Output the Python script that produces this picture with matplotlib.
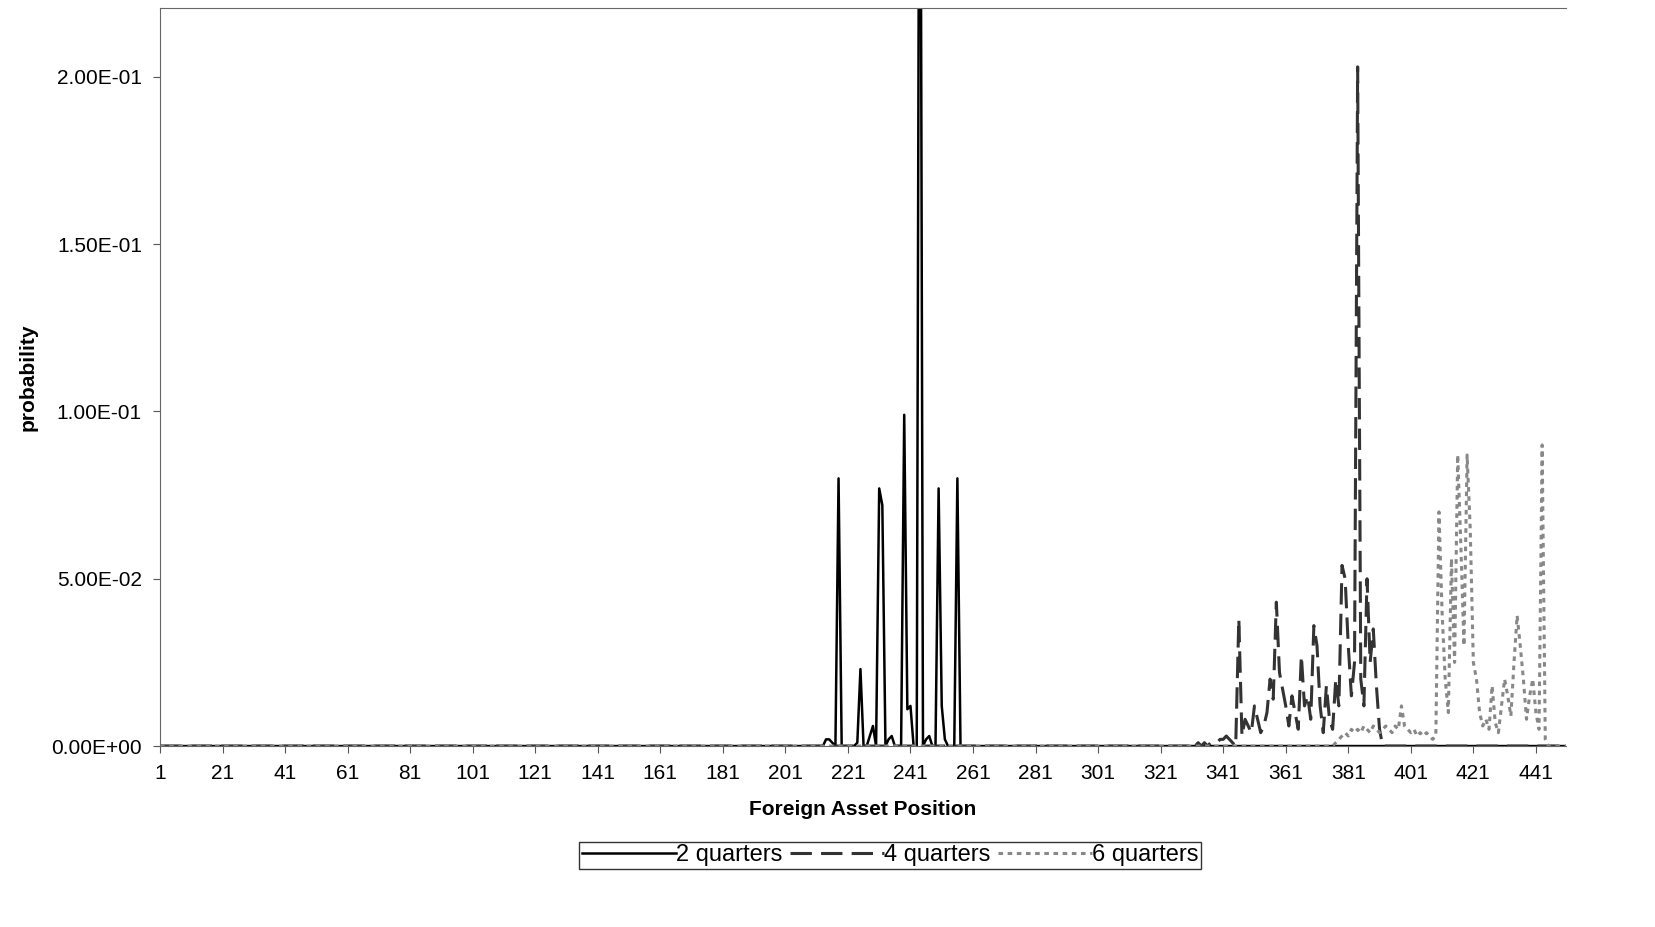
import numpy as np
import matplotlib.pyplot as plt
from matplotlib.ticker import FormatStrFormatter

plt.rcParams['font.family'] = ['Liberation Sans', 'DejaVu Sans']

n = 452
# nonzero points (position, probability) per series
q2_pos = [214, 215, 216, 217, 218, 219, 220, 224, 225, 226, 228, 229, 230, 231, 232, 233, 234, 235, 236,
          238, 239, 240, 241, 242, 243, 244, 245, 246, 247, 248, 249, 250, 251, 252, 253, 254, 255, 256, 257]
q2_val = [0.002, 0.002, 0.001, 0.0, 0.08, 0.0, 0.0, 0.001, 0.023, 0.0, 0.003, 0.006, 0.0, 0.077, 0.072, 0.0, 0.002, 0.003, 0.0,
          0.0, 0.099, 0.011, 0.012, 0.0, 0.0, 0.36, 0.0, 0.002, 0.003, 0.0, 0.0, 0.077, 0.012, 0.002, 0.0, 0.0, 0.0, 0.08, 0.0]
q4_pos = list(range(331, 393))
q4_val = [0.001, 0.0, 0.001, 0.0, 0.001, 0.0, 0.001, 0.001, 0.001, 0.002, 0.002, 0.003, 0.002, 0.001, 0.0, 0.038,
          0.003, 0.008, 0.006, 0.004, 0.012, 0.008, 0.004, 0.006, 0.01, 0.02, 0.014, 0.043, 0.022, 0.017, 0.012,
          0.006, 0.015, 0.01, 0.005, 0.027, 0.012, 0.015, 0.008, 0.036, 0.03, 0.012, 0.004, 0.018, 0.008, 0.005,
          0.02, 0.012, 0.054, 0.05, 0.03, 0.015, 0.025, 0.203, 0.02, 0.012, 0.05, 0.025, 0.035, 0.018, 0.005, 0.0]
q6_pos = list(range(377, 446))
q6_val = [0.001, 0.002, 0.003, 0.004, 0.003, 0.005, 0.004, 0.005, 0.004, 0.006, 0.005, 0.004, 0.006, 0.005, 0.004,
          0.005, 0.006, 0.005, 0.004, 0.006, 0.005, 0.012, 0.006, 0.005, 0.004, 0.005, 0.003, 0.004, 0.003, 0.004,
          0.003, 0.002, 0.003, 0.07, 0.04, 0.02, 0.01, 0.056, 0.025, 0.087, 0.06, 0.03, 0.087, 0.065, 0.025, 0.02,
          0.01, 0.006, 0.008, 0.005, 0.018, 0.007, 0.004, 0.012, 0.02, 0.015, 0.009, 0.025, 0.039, 0.03, 0.02,
          0.008, 0.015, 0.02, 0.01, 0.005, 0.09, 0.002, 0.0]
series = [('2 quarters', q2_pos, q2_val, 'black', '-'),
          ('4 quarters', q4_pos, q4_val, '#333333', (0, (7, 3))),
          ('6 quarters', q6_pos, q6_val, '#888888', (0, (1.5, 1.5)))]

x = np.arange(1, n + 1)
fig = plt.figure(figsize=(16.56, 9.27), dpi=100)
ax = fig.add_axes([0.0966, 0.1952, 0.849, 0.7962])
handles = []
for name, pos, val, col, ls in series:
    y = np.zeros(n)
    y[np.array(pos) - 1] = val
    h, = ax.plot(x, y, color=col, linestyle=ls, linewidth=2.2 if ls != '-' else 1.8, label=name)
    handles.append(h)

ax.set_xlim(1, 450.6)
ax.set_ylim(0, 0.2206)
ax.set_xticks(range(1, 442, 20))
ax.set_yticks([0, 0.05, 0.1, 0.15, 0.2])
ax.yaxis.set_major_formatter(FormatStrFormatter('%.2E'))
ax.tick_params(labelsize=15, length=5, color='#555555', pad=8)
for s in ax.spines.values():
    s.set_color('#666666')
ax.spines['right'].set_visible(False)
ax.set_xlabel('Foreign Asset Position', fontsize=15, fontweight='bold', labelpad=12)
ax.set_ylabel('probability', fontsize=15, fontweight='bold', labelpad=10)
leg = fig.legend(handles=handles, loc='lower center', bbox_to_anchor=(0.5375, 0.05), ncol=3, fontsize=17,
                 frameon=True, fancybox=False, edgecolor='black', handlelength=4, handletextpad=0.0,
                 columnspacing=0.3, borderpad=0.1)
plt.savefig('out.png')
